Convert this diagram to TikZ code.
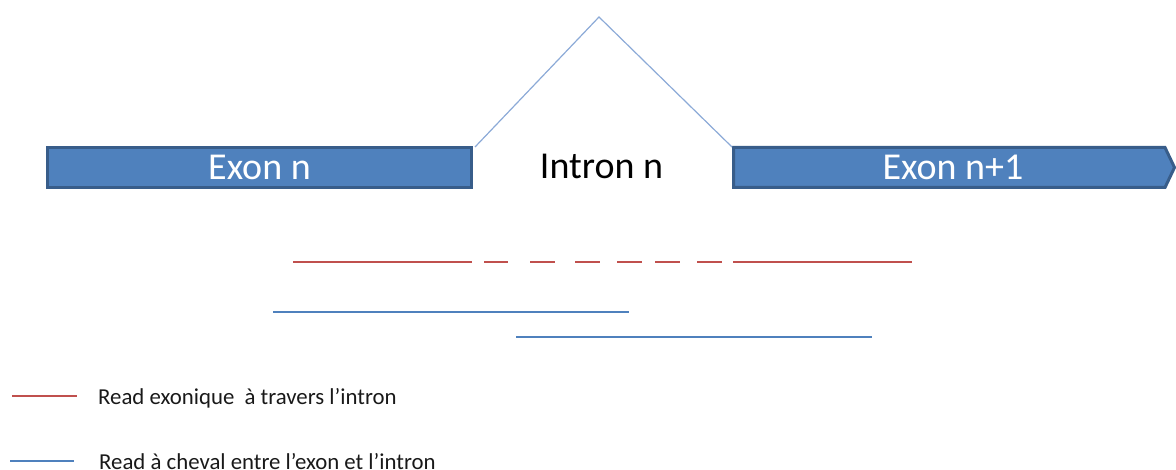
\documentclass[tikz,border=0pt]{standalone}
\usepackage{fontspec}
\setmainfont{Carlito}
\definecolor{exonfill}{HTML}{4F81BD}
\definecolor{exonline}{HTML}{385D8A}
\definecolor{readred}{HTML}{C0504D}
\definecolor{readblue}{HTML}{4F81BD}
\definecolor{intronline}{RGB}{140,170,215}
\tikzset{
  exonbox/.style={draw=exonline, fill=exonfill, line width=3pt, line join=miter},
  exontext/.style={text=white, font=\fontsize{38}{40}\selectfont, inner sep=0pt, anchor=base},
  introntext/.style={text=black, font=\fontsize{38}{40}\selectfont, inner sep=0pt, anchor=base},
  intronlink/.style={draw=intronline, line width=1.2pt},
  readred/.style={draw=readred, line width=2pt},
  readblue/.style={draw=readblue, line width=2pt},
  legline/.style={line width=1.2pt},
  legtext/.style={text=black!90, font=\fontsize{22.8}{24}\selectfont, inner sep=0pt, anchor=base west},
}
\begin{document}
\begin{tikzpicture}[x=1pt,y=-1pt]
\useasboundingbox (0,0) rectangle (1176,470);
% exon n
\node[exonbox, minimum width=424pt, minimum height=40pt, inner sep=0pt] (exon1) at (259.5,167.5) {};
\node[exontext] (exon1t) at (259.5,180) {Exon n};
% exon n+1 (pointed)
\coordinate (e2a) at (733.5,147.5);
\coordinate (e2b) at (1165,147.5);
\coordinate (e2tip) at (1174.5,167.5);
\coordinate (e2c) at (1165,187.5);
\coordinate (e2d) at (733.5,187.5);
\draw[exonbox] (e2a) -- (e2b) -- (e2tip) -- (e2c) -- (e2d) -- cycle;
\node[exontext] (exon2t) at (953,180) {Exon n+1};
% intron
\coordinate (iL) at (475,147);
\coordinate (apex) at (599,17);
\coordinate (iR) at (732,147);
\draw[intronlink] (iL) -- (apex) -- (iR);
\node[introntext] (intront) at (601.5,179) {Intron n};
% red read
\coordinate (r1) at (293,262);  \coordinate (r2) at (472,262);
\coordinate (r3) at (484,262);  \coordinate (r4) at (508,262);
\coordinate (r5) at (530,262);  \coordinate (r6) at (555,262);
\coordinate (r7) at (575,262);  \coordinate (r8) at (600,262);
\coordinate (r9) at (617,262);  \coordinate (r10) at (642,262);
\coordinate (r11) at (655,262); \coordinate (r12) at (680,262);
\coordinate (r13) at (697,262); \coordinate (r14) at (722,262);
\coordinate (r15) at (733,262); \coordinate (r16) at (912,262);
\draw[readred] (r1) -- (r2) (r3) -- (r4) (r5) -- (r6) (r7) -- (r8)
  (r9) -- (r10) (r11) -- (r12) (r13) -- (r14) (r15) -- (r16);
% blue reads
\coordinate (b1) at (273,312); \coordinate (b2) at (629,312);
\coordinate (b3) at (516,337); \coordinate (b4) at (872,337);
\draw[readblue] (b1) -- (b2);
\draw[readblue] (b3) -- (b4);
% legend
\coordinate (l1a) at (12,396); \coordinate (l1b) at (77,396);
\draw[readred, legline] (l1a) -- (l1b);
\node[legtext] (leg1) at (98,404) {Read exonique~ à travers l’intron};
\coordinate (l2a) at (10,461); \coordinate (l2b) at (74,461);
\draw[readblue, legline] (l2a) -- (l2b);
\node[legtext] (leg2) at (99,469) {Read à cheval entre l’exon et l’intron};
\end{tikzpicture}
\end{document}
